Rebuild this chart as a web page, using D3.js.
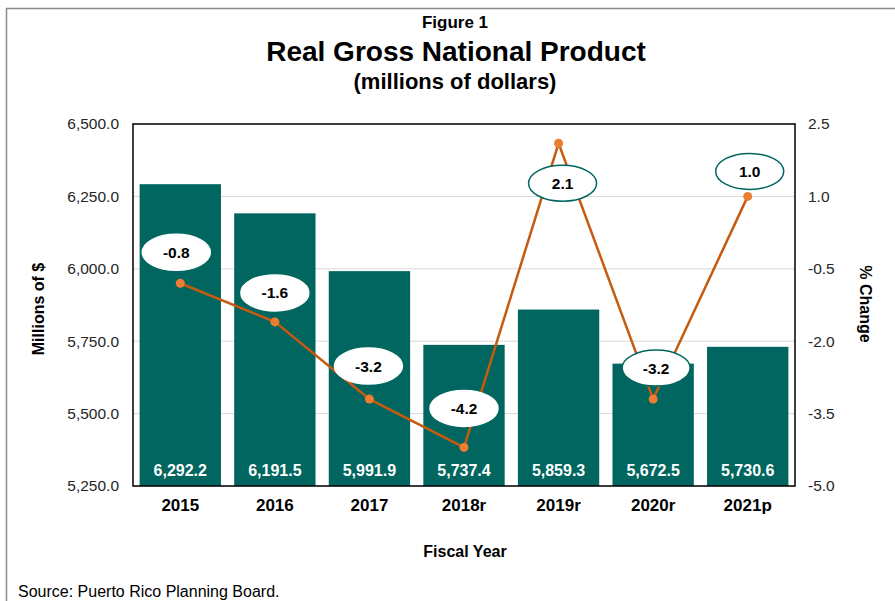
<!DOCTYPE html>
<html>
<head>
<meta charset="utf-8">
<script src="https://cdn.jsdelivr.net/npm/d3@7"></script>
<style>
  html, body { margin: 0; padding: 0; background: #fff; }
  svg { display: block; font-family: "Liberation Sans", Arial, sans-serif; }
</style>
</head>
<body>
<svg id="chart" width="895" height="601"></svg>
<script>
// ---- data ----
const years = ["2015", "2016", "2017", "2018r", "2019r", "2020r", "2021p"];
const gnp = [6292.2, 6191.5, 5991.9, 5737.4, 5859.3, 5672.5, 5730.6];
const pctChange = [-0.8, -1.6, -3.2, -4.2, 2.1, -3.2, 1.0];
const leftTicks = [5250, 5500, 5750, 6000, 6250, 6500];
const rightTicks = [-5.0, -3.5, -2.0, -0.5, 1.0, 2.5];

// ---- style / layout (not data) ----
const labelOffsets = [[-4, -31], [0, -29], [-1, -33], [0, -39], [4, 40], [3, -31], [2, -25]];
const labelOutlined = [false, false, false, false, true, true, true];
const teal = "#00665f";
const lineColor = "#c55a11";
const dotColor = "#ed7d31";

const locale = d3.formatLocale({ decimal: ".", thousands: ",", grouping: [3], currency: ["$", ""], minus: "-" });
const fmtThousands = locale.format(",.1f");
const fmtOne = locale.format(".1f");

const svg = d3.select("#chart");
const m = { left: 133, right: 795, top: 124, bottom: 486 };

// outer frame
svg.append("rect").attr("x", 6.5).attr("y", 8.5).attr("width", 910).attr("height", 620)
  .attr("fill", "none").attr("stroke", "#8c8c8c").attr("stroke-width", 1.5);

const x = d3.scaleBand().domain(years).range([m.left, m.right]).paddingInner(0.14).paddingOuter(0.07);
const yL = d3.scaleLinear().domain([5250, 6500]).range([m.bottom, m.top]);
const yR = d3.scaleLinear().domain([-5, 2.5]).range([m.bottom, m.top]);

// gridlines
svg.append("g").selectAll("line").data(leftTicks).join("line")
  .attr("x1", m.left).attr("x2", m.right)
  .attr("y1", d => yL(d)).attr("y2", d => yL(d))
  .attr("stroke", "#d9d9d9").attr("stroke-width", 1);

// bars
svg.append("g").selectAll("rect").data(gnp).join("rect")
  .attr("x", (d, i) => x(years[i]))
  .attr("width", x.bandwidth())
  .attr("y", d => yL(d))
  .attr("height", d => m.bottom - yL(d))
  .attr("fill", teal);

// bar value labels
svg.append("g").selectAll("text").data(gnp).join("text")
  .attr("x", (d, i) => x(years[i]) + x.bandwidth() / 2)
  .attr("y", m.bottom - 10)
  .attr("text-anchor", "middle")
  .attr("fill", "#fff").attr("font-weight", "bold").attr("font-size", 16)
  .text(d => fmtThousands(d));

// plot border
svg.append("rect").attr("x", m.left).attr("y", m.top)
  .attr("width", m.right - m.left).attr("height", m.bottom - m.top)
  .attr("fill", "none").attr("stroke", "#000").attr("stroke-width", 1.5);

// axes (using d3 axes, domain/ticks hidden)
const axL = svg.append("g").attr("transform", `translate(${m.left},0)`)
  .call(d3.axisLeft(yL).tickValues(leftTicks).tickFormat(fmtThousands).tickSize(0).tickPadding(14));
const axR = svg.append("g").attr("transform", `translate(${m.right},0)`)
  .call(d3.axisRight(yR).tickValues(rightTicks).tickFormat(fmtOne).tickSize(0).tickPadding(13));
const axB = svg.append("g").attr("transform", `translate(0,${m.bottom})`)
  .call(d3.axisBottom(x).tickSize(0).tickPadding(13));
[axL, axR, axB].forEach(a => {
  a.select(".domain").remove();
  a.selectAll("text").attr("font-family", "Liberation Sans, Arial, sans-serif").attr("fill", "#262626");
});
axL.selectAll("text").attr("font-size", 15.5);
axR.selectAll("text").attr("font-size", 15.5);
axB.selectAll("text").attr("font-size", 17).attr("font-weight", "bold").attr("fill", "#000");

// line
const cx = i => x(years[i]) + x.bandwidth() / 2;
const line = d3.line().x((d, i) => cx(i)).y(d => yR(d));
svg.append("path").datum(pctChange).attr("d", line)
  .attr("fill", "none").attr("stroke", lineColor).attr("stroke-width", 2.5);
svg.append("g").selectAll("circle").data(pctChange).join("circle")
  .attr("cx", (d, i) => cx(i)).attr("cy", d => yR(d)).attr("r", 4.5).attr("fill", dotColor);

// callout labels
const cl = svg.append("g").selectAll("g").data(pctChange).join("g")
  .attr("transform", (d, i) => `translate(${cx(i) + labelOffsets[i][0]},${yR(d) + labelOffsets[i][1]})`);
cl.append("ellipse").attr("rx", 34).attr("ry", 18)
  .attr("fill", "#fff")
  .attr("stroke", (d, i) => labelOutlined[i] ? teal : "#fff")
  .attr("stroke-width", 1.5);
cl.append("text").attr("text-anchor", "middle").attr("dy", "0.36em")
  .attr("font-size", 15.5).attr("font-weight", "bold").attr("fill", "#000")
  .text(d => fmtOne(d));

// titles
svg.append("text").attr("x", 455).attr("y", 28).attr("text-anchor", "middle")
  .attr("font-size", 17).attr("font-weight", "bold").text("Figure 1");
svg.append("text").attr("x", 456).attr("y", 61).attr("text-anchor", "middle")
  .attr("font-size", 28).attr("font-weight", "bold").text("Real Gross National Product");
svg.append("text").attr("x", 455).attr("y", 89).attr("text-anchor", "middle")
  .attr("font-size", 22).attr("font-weight", "bold").text("(millions of dollars)");

// axis titles
svg.append("text").attr("transform", "translate(44,309) rotate(-90)").attr("text-anchor", "middle")
  .attr("font-size", 16).attr("font-weight", "bold").text("Millions of $");
svg.append("text").attr("transform", "translate(860,304) rotate(90)").attr("text-anchor", "middle")
  .attr("font-size", 16).attr("font-weight", "bold").text("% Change");
svg.append("text").attr("x", 465).attr("y", 557).attr("text-anchor", "middle")
  .attr("font-size", 16).attr("font-weight", "bold").text("Fiscal Year");

// source
svg.append("text").attr("x", 18).attr("y", 597)
  .attr("font-size", 16).attr("fill", "#000").text("Source: Puerto Rico Planning Board.");
</script>
</body>
</html>
